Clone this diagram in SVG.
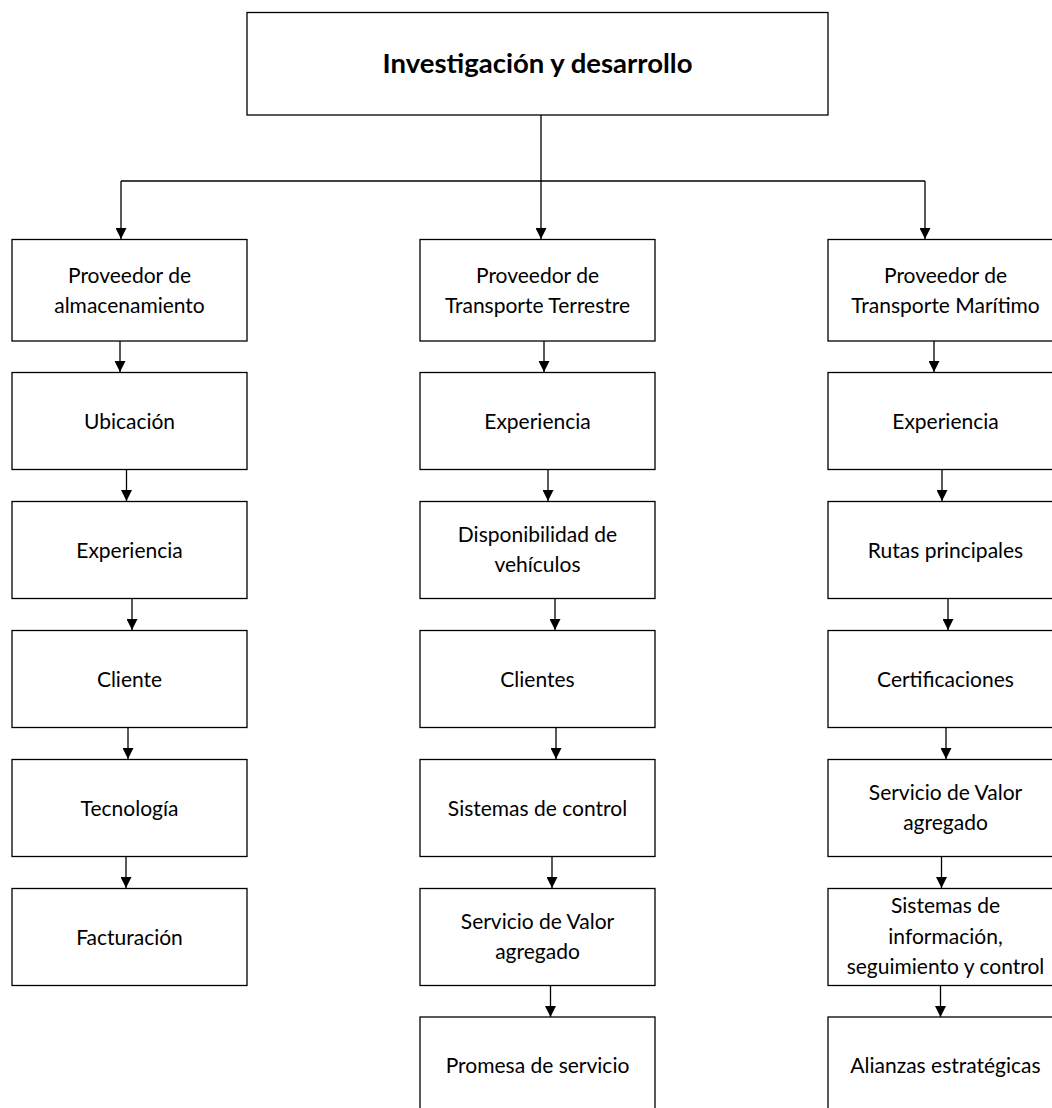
<svg xmlns="http://www.w3.org/2000/svg" width="1052" height="1108" viewBox="0 0 1052 1108">
  <style>
    .box { fill: #ffffff; stroke: #000000; stroke-width: 1.3; }
    .lbl { font-family: Lato, "Open Sans", sans-serif; font-size: 21px; fill: #000000; text-anchor: middle; }
    .title { font-family: Lato, "Open Sans", sans-serif; font-size: 27.5px; font-weight: bold; fill: #000000; text-anchor: middle; }
    .wire { fill: none; stroke: #000000; stroke-width: 1.3; }
  </style>
  <defs>
    <marker id="arrow" markerUnits="userSpaceOnUse" markerWidth="11" markerHeight="11" refX="11" refY="5.5" orient="auto">
      <path d="M0,0 L11,5.5 L0,11 z" fill="#000000"/>
    </marker>
  </defs>
  <rect width="1052" height="1108" fill="#ffffff"/>

  <!-- root -->
  <g id="root">
    <rect class="box" x="247" y="12.5" width="581" height="102.5"/>
    <text class="title" x="537.5" y="73">Investigación y desarrollo</text>
  </g>

  <!-- left column: almacenamiento -->
  <g id="prov-almacenamiento">
    <rect class="box" x="12" y="239.5" width="235" height="101.5"/>
    <text class="lbl" x="129.5" y="283">Proveedor de</text>
    <text class="lbl" x="129.5" y="313">almacenamiento</text>
  </g>
  <g id="alm-ubicacion">
    <rect class="box" x="12" y="372.5" width="235" height="97"/>
    <text class="lbl" x="129.5" y="429">Ubicación</text>
  </g>
  <g id="alm-experiencia">
    <rect class="box" x="12" y="501.5" width="235" height="97"/>
    <text class="lbl" x="129.5" y="558">Experiencia</text>
  </g>
  <g id="alm-cliente">
    <rect class="box" x="12" y="630.5" width="235" height="97"/>
    <text class="lbl" x="129.5" y="687">Cliente</text>
  </g>
  <g id="alm-tecnologia">
    <rect class="box" x="12" y="759.5" width="235" height="97"/>
    <text class="lbl" x="129.5" y="816">Tecnología</text>
  </g>
  <g id="alm-facturacion">
    <rect class="box" x="12" y="888.5" width="235" height="97"/>
    <text class="lbl" x="129.5" y="945">Facturación</text>
  </g>

  <!-- middle column: transporte terrestre -->
  <g id="prov-terrestre">
    <rect class="box" x="420" y="239.5" width="235" height="101.5"/>
    <text class="lbl" x="537.5" y="283">Proveedor de</text>
    <text class="lbl" x="537.5" y="313">Transporte Terrestre</text>
  </g>
  <g id="ter-experiencia">
    <rect class="box" x="420" y="372.5" width="235" height="97"/>
    <text class="lbl" x="537.5" y="429">Experiencia</text>
  </g>
  <g id="ter-disponibilidad">
    <rect class="box" x="420" y="501.5" width="235" height="97"/>
    <text class="lbl" x="537.5" y="542">Disponibilidad de</text>
    <text class="lbl" x="537.5" y="572">vehículos</text>
  </g>
  <g id="ter-clientes">
    <rect class="box" x="420" y="630.5" width="235" height="97"/>
    <text class="lbl" x="537.5" y="687">Clientes</text>
  </g>
  <g id="ter-control">
    <rect class="box" x="420" y="759.5" width="235" height="97"/>
    <text class="lbl" x="537.5" y="816">Sistemas de control</text>
  </g>
  <g id="ter-valor">
    <rect class="box" x="420" y="888.5" width="235" height="97"/>
    <text class="lbl" x="537.5" y="929">Servicio de Valor</text>
    <text class="lbl" x="537.5" y="959">agregado</text>
  </g>
  <g id="ter-promesa">
    <rect class="box" x="420" y="1017" width="235" height="100"/>
    <text class="lbl" x="537.5" y="1073">Promesa de servicio</text>
  </g>

  <!-- right column: transporte maritimo -->
  <g id="prov-maritimo">
    <rect class="box" x="828" y="239.5" width="235" height="101.5"/>
    <text class="lbl" x="945.5" y="283">Proveedor de</text>
    <text class="lbl" x="945.5" y="313">Transporte Marítimo</text>
  </g>
  <g id="mar-experiencia">
    <rect class="box" x="828" y="372.5" width="235" height="97"/>
    <text class="lbl" x="945.5" y="429">Experiencia</text>
  </g>
  <g id="mar-rutas">
    <rect class="box" x="828" y="501.5" width="235" height="97"/>
    <text class="lbl" x="945.5" y="558">Rutas principales</text>
  </g>
  <g id="mar-certificaciones">
    <rect class="box" x="828" y="630.5" width="235" height="97"/>
    <text class="lbl" x="945.5" y="687">Certificaciones</text>
  </g>
  <g id="mar-valor">
    <rect class="box" x="828" y="759.5" width="235" height="97"/>
    <text class="lbl" x="945.5" y="800">Servicio de Valor</text>
    <text class="lbl" x="945.5" y="830">agregado</text>
  </g>
  <g id="mar-informacion">
    <rect class="box" x="828" y="888.5" width="235" height="97"/>
    <text class="lbl" x="945.5" y="913">Sistemas de</text>
    <text class="lbl" x="945.5" y="944">información,</text>
    <text class="lbl" x="945.5" y="974">seguimiento y control</text>
  </g>
  <g id="mar-alianzas">
    <rect class="box" x="828" y="1017" width="235" height="100"/>
    <text class="lbl" x="945.5" y="1073">Alianzas estratégicas</text>
  </g>

  <!-- connectors -->
  <g id="connectors">
    <path class="wire" d="M541,115 V239" marker-end="url(#arrow)"/>
    <path class="wire" d="M121,181 H925"/>
    <path class="wire" d="M121,181 V239" marker-end="url(#arrow)"/>
    <path class="wire" d="M925,181 V239" marker-end="url(#arrow)"/>

    <path class="wire" d="M120,341 V372" marker-end="url(#arrow)"/>
    <path class="wire" d="M126.5,469.5 V501" marker-end="url(#arrow)"/>
    <path class="wire" d="M132,598.5 V630" marker-end="url(#arrow)"/>
    <path class="wire" d="M128,727.5 V759" marker-end="url(#arrow)"/>
    <path class="wire" d="M126,856.5 V888" marker-end="url(#arrow)"/>

    <path class="wire" d="M544,341 V372" marker-end="url(#arrow)"/>
    <path class="wire" d="M548,469.5 V501" marker-end="url(#arrow)"/>
    <path class="wire" d="M555,598.5 V630" marker-end="url(#arrow)"/>
    <path class="wire" d="M556,727.5 V759" marker-end="url(#arrow)"/>
    <path class="wire" d="M552,856.5 V888" marker-end="url(#arrow)"/>
    <path class="wire" d="M550.5,985.5 V1017" marker-end="url(#arrow)"/>

    <path class="wire" d="M934,341 V372" marker-end="url(#arrow)"/>
    <path class="wire" d="M942,469.5 V501" marker-end="url(#arrow)"/>
    <path class="wire" d="M948,598.5 V630" marker-end="url(#arrow)"/>
    <path class="wire" d="M946,727.5 V759" marker-end="url(#arrow)"/>
    <path class="wire" d="M941.5,856.5 V888" marker-end="url(#arrow)"/>
    <path class="wire" d="M940.5,985.5 V1017" marker-end="url(#arrow)"/>
  </g>
</svg>
